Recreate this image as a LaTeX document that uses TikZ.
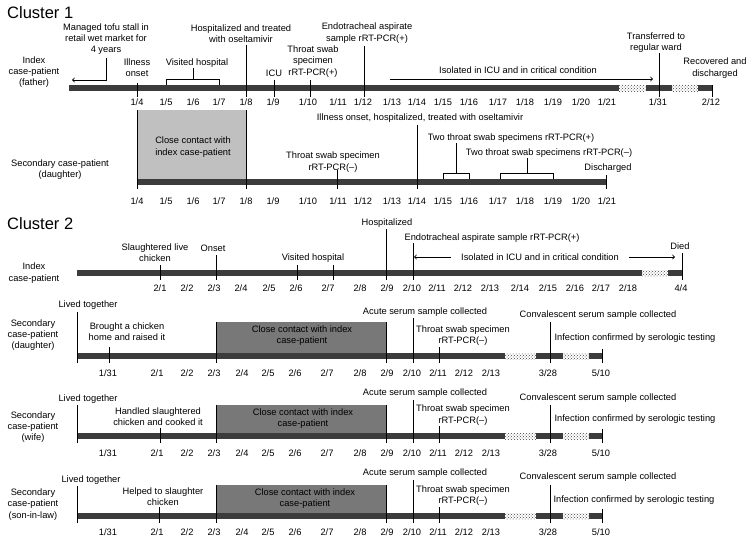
\documentclass[tikz,border=0pt]{standalone}
\usepackage{fontspec}
\setmainfont{Liberation Sans}
\usetikzlibrary{patterns}
\definecolor{barcol}{HTML}{3C3C3C}
\definecolor{lightbox}{HTML}{C0C0C0}
\definecolor{darkbox}{HTML}{787878}
\newcommand\txtsize{\fontsize{9.3}{11.2}\selectfont}

\begin{document}
\begin{tikzpicture}[x=1pt, y=-1pt,
  lbl/.style={font=\txtsize, inner sep=0pt, align=center},
  title/.style={font=\fontsize{16.5}{18}\selectfont, inner sep=0pt, anchor=west},
  tick/.style={line width=0.9pt},
  bar/.style={fill=barcol},
  gap/.style={pattern=crosshatch dots, pattern color=black!75}]

        \useasboundingbox (0,0) rectangle (750,546);

        % Cluster 1
        \node[title] (cl1) at (7,13) {Cluster 1};

        % Index case-patient (father)
        \node[lbl] (fa) at (34,72) {Index\\case-patient\\(father)};
        \fill[bar] (69,85) rectangle (619,91);
        \fill[gap] (619,85) rectangle (646,91);
        \fill[bar] (646,85) rectangle (672,91);
        \fill[gap] (672,85) rectangle (698,91);
        \fill[bar] (698,85) rectangle (712,91);

        \node[lbl] (tofu) at (106,39) {Managed tofu stall in\\retail wet market for\\4 years};
        \coordinate (tofuend) at (72,80);
        \draw[tick, ->] (tofu.south) ++(0,3) |- (tofuend);

        \node[lbl] (onset1) at (137,67.5) {Illness\\onset};
        \node[lbl] (visit1) at (197,63) {Visited hospital};
        \node[lbl] (hosp1) at (241,33.5) {Hospitalized and treated\\with oseltamivir};
        \node[lbl] (icu1) at (274,73) {ICU};
        \node[lbl] (swab1) at (313,61.5) {Throat swab\\specimen\\rRT-PCR(+)};
        \node[lbl] (endo1) at (367,33) {Endotracheal aspirate\\sample rRT-PCR(+)};
        \node[lbl] (iso1) at (518,70) {Isolated in ICU and in critical condition};
        \node[lbl] (ward1) at (656,42.5) {Transferred to\\regular ward};
        \node[lbl] (recov1) at (715,68) {Recovered and\\discharged};

        \draw[tick] (137,83) -- (137,97);
        \draw[tick] (166,85) -- (166,79) -- (219,79) -- (219,85);
        \draw[tick] (193,68) -- (193,79);
        \draw[tick] (246,45) -- (246,97);
        \draw[tick] (274,80) -- (274,97);
        \draw[tick] (310,80) -- (310,97);
        \draw[tick] (364,46) -- (364,97);
        \draw[tick, ->] (390,79) -- (653,79);
        \draw[tick] (659,53) -- (659,97);
        \draw[tick] (712,85) -- (712,97);

        \foreach \x/\m/\dd in {137/1/4, 166/1/5, 193/1/6, 219/1/7, 246/1/8, 273/1/9,
            308/1/10, 338/1/11, 363/1/12, 392/1/13, 417/1/14, 443/1/15, 469/1/16,
            498/1/17, 525/1/18, 553/1/19, 581/1/20, 607/1/21, 658/1/31, 711/2/12}
            \node[lbl] (fd\x) at (\x,102) {\m/\dd};

        % Secondary case-patient (daughter)
        \node[lbl] (da) at (60,169.5) {Secondary case-patient\\(daughter)};
        \fill[lightbox] (137,110) rectangle (246,179);
        \node[lbl] (cc1) at (193,147) {Close contact with\\index case-patient};
        \fill[bar] (137,179) rectangle (606,185);

        \node[lbl] (ill1) at (420,118) {Illness onset, hospitalized, treated with oseltamivir};
        \node[lbl] (swab2) at (333,162) {Throat swab specimen\\rRT-PCR(–)};
        \node[lbl] (twop) at (511,138) {Two throat swab specimens rRT-PCR(+)};
        \node[lbl] (twon) at (549,153) {Two throat swab specimens rRT-PCR(–)};
        \node[lbl] (disc1) at (608,168) {Discharged};

        \draw[tick] (137,110) -- (137,189);
        \draw[tick] (246,110) -- (246,189);
        \draw[tick] (337,170) -- (337,189);
        \draw[tick] (417,125) -- (417,189);
        \draw[tick] (443,179) -- (443,173) -- (469,173) -- (469,179);
        \draw[tick] (456,143) -- (456,173);
        \draw[tick] (500,179) -- (500,173) -- (553,173) -- (553,179);
        \draw[tick] (527,158) -- (527,173);
        \draw[tick] (606,175) -- (606,189);

        \foreach \x/\m/\dd in {137/1/4, 166/1/5, 193/1/6, 219/1/7, 246/1/8, 273/1/9,
            308/1/10, 338/1/11, 363/1/12, 392/1/13, 417/1/14, 443/1/15, 469/1/16,
            498/1/17, 525/1/18, 553/1/19, 581/1/20, 607/1/21}
            \node[lbl] (dd\x) at (\x,201) {\m/\dd};

        % Cluster 2
        \node[title] (cl2) at (7,224) {Cluster 2};

        % Index case-patient
        \node[lbl] (ix) at (34,273) {Index\\case-patient};
        \fill[bar] (77,270) rectangle (642,276);
        \fill[gap] (642,270) rectangle (668,276);
        \fill[bar] (668,270) rectangle (682,276);

        \node[lbl] (slau) at (155,253) {Slaughtered live\\chicken};
        \node[lbl] (onset2) at (213,248) {Onset};
        \node[lbl] (visit2) at (313,258) {Visited hospital};
        \node[lbl] (hosp2) at (387,223) {Hospitalized};
        \node[lbl] (endo2) at (492,238) {Endotracheal aspirate sample rRT-PCR(+)};
        \node[lbl] (iso2) at (540,257) {Isolated in ICU and in critical condition};
        \node[lbl] (died) at (680,246) {Died};

        \draw[tick] (160,265) -- (160,280);
        \draw[tick] (216,255) -- (216,280);
        \draw[tick] (297,265) -- (297,280);
        \draw[tick] (333,265) -- (333,280);
        \draw[tick] (386,229) -- (386,280);
        \draw[tick] (413,243) -- (413,280);
        \draw[tick] (682,253) -- (682,280);
        \draw[tick, ->] (iso2.west) ++(-10,0) -- (414,257);
        \draw[tick, ->] (iso2.east) ++(10,0) -- (675,257);

        \foreach \x/\m/\dd in {160/2/1, 187/2/2, 214/2/3, 241/2/4, 269/2/5, 296/2/6,
            328/2/7, 360/2/8, 387/2/9, 412/2/10, 437/2/11, 463/2/12, 490/2/13,
            520/2/14, 548/2/15, 575/2/16, 601/2/17, 628/2/18, 681/4/4}
            \node[lbl] (id\x) at (\x,288) {\m/\dd};

        % Secondary case-patients: boxes and bars
        \fill[darkbox] (216,322) rectangle (386,353);
        \fill[darkbox] (216,405) rectangle (386,433);
        \fill[darkbox] (216,485) rectangle (386,513);
        \foreach \yb in {353,433,513} {
            \fill[bar] (77,\yb) rectangle (505,\yb+6);
            \fill[gap] (505,\yb) rectangle (536,\yb+6);
            \fill[bar] (536,\yb) rectangle (563,\yb+6);
            \fill[gap] (563,\yb) rectangle (589,\yb+6);
            \fill[bar] (589,\yb) rectangle (602,\yb+6);
        }

        % (daughter)
        \node[lbl] (sd) at (33,335) {Secondary\\case-patient\\(daughter)};
        \node[lbl] (livd) at (88,305) {Lived together};
        \node[lbl] (brought) at (127,332) {Brought a chicken\\home and raised it};
        \node[lbl] (ccd) at (302,335.5) {Close contact with index\\case-patient};
        \node[lbl] (acd) at (425,312) {Acute serum sample collected};
        \node[lbl] (swd) at (463,335.5) {Throat swab specimen\\rRT-PCR(–)};
        \node[lbl] (cvd) at (598,315) {Convalescent serum sample collected};
        \node[lbl] (infd) at (635,338) {Infection confirmed by serologic testing};

        \draw[tick] (77,312) -- (77,363);
        \draw[tick] (109,347) -- (109,363);
        \draw[tick] (216,322) -- (216,363);
        \draw[tick] (386,322) -- (386,363);
        \draw[tick] (413,318) -- (413,363);
        \draw[tick] (439,347) -- (439,363);
        \draw[tick] (550,322) -- (550,363);
        \draw[tick] (602,349) -- (602,363);

        % (wife)
        \node[lbl] (sw) at (33,427) {Secondary\\case-patient\\(wife)};
        \node[lbl] (livw) at (88,399) {Lived together};
        \node[lbl] (handled) at (158,416.5) {Handled slaughtered\\chicken and cooked it};
        \node[lbl] (ccw) at (303,418.5) {Close contact with index\\case-patient};
        \node[lbl] (acw) at (425,393) {Acute serum sample collected};
        \node[lbl] (sww) at (463,415) {Throat swab specimen\\rRT-PCR(–)};
        \node[lbl] (cvw) at (598,398) {Convalescent serum sample collected};
        \node[lbl] (infw) at (635,419) {Infection confirmed by serologic testing};

        \draw[tick] (77,405) -- (77,443);
        \draw[tick] (160,428) -- (160,443);
        \draw[tick] (216,405) -- (216,443);
        \draw[tick] (386,405) -- (386,443);
        \draw[tick] (413,400) -- (413,443);
        \draw[tick] (439,426) -- (439,443);
        \draw[tick] (550,405) -- (550,443);
        \draw[tick] (602,429) -- (602,443);

        % (son-in-law)
        \node[lbl] (ss) at (33,504.5) {Secondary\\case-patient\\(son-in-law)};
        \node[lbl] (livs) at (91,480) {Lived together};
        \node[lbl] (helped) at (163,497) {Helped to slaughter\\chicken};
        \node[lbl] (ccs) at (305,498.5) {Close contact with index\\case-patient};
        \node[lbl] (acs) at (425,473) {Acute serum sample collected};
        \node[lbl] (sws) at (463,495.5) {Throat swab specimen\\rRT-PCR(–)};
        \node[lbl] (cvs) at (598,477) {Convalescent serum sample collected};
        \node[lbl] (infs) at (634,500) {Infection confirmed by serologic testing};

        \draw[tick] (77,486) -- (77,523);
        \draw[tick] (159,507) -- (159,523);
        \draw[tick] (216,485) -- (216,523);
        \draw[tick] (386,485) -- (386,523);
        \draw[tick] (413,480) -- (413,523);
        \draw[tick] (439,507) -- (439,523);
        \draw[tick] (550,485) -- (550,523);
        \draw[tick] (602,509) -- (602,523);

        \foreach \yy in {373,453,532}
            \foreach \x/\m/\dd in {108/1/31, 157/2/1, 187/2/2, 214/2/3, 242/2/4,
                268/2/5, 295/2/6, 327/2/7, 360/2/8, 387/2/9, 412/2/10, 438/2/11,
                464/2/12, 491/2/13, 548/3/28, 601/5/10}
                \node[lbl] (s\yy-\x) at (\x,\yy) {\m/\dd};

    \end{tikzpicture}
\end{document}
